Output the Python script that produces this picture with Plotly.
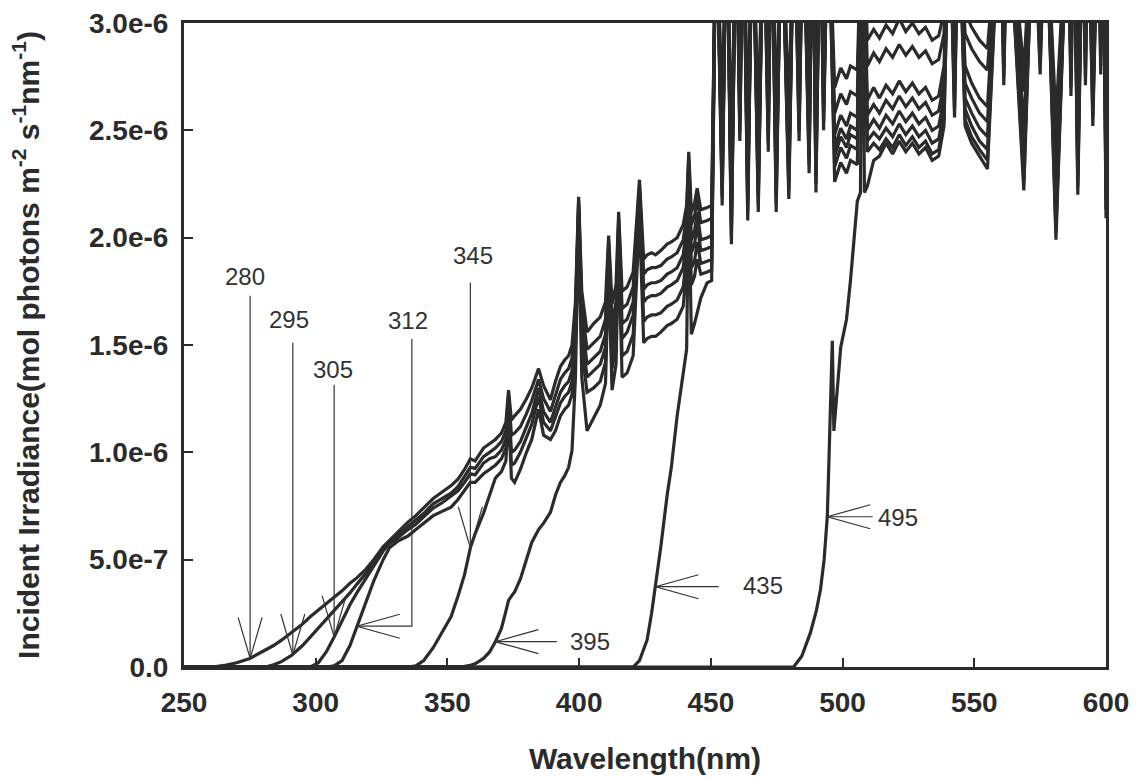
import plotly.graph_objects as go

# ---------------- data (irradiance in units of 1e-6 mol photons m-2 s-1 nm-1) ----------------
wavelength = [250, 258, 262, 266, 270, 275, 279, 281, 284, 287,
              291, 295, 298, 301, 304, 307, 310, 313, 315.6, 319,
              322, 325.6, 328, 331, 335, 338, 341, 344.6, 348, 351.4,
              354, 356.5, 358.7, 360.5, 363.7, 366, 368.2, 370.5, 372.2, 373.2,
              374.3, 375.5, 377.7, 380, 382, 384.6, 386.5, 389.1, 391, 392.9,
              394.5, 396, 397.3, 398.6, 399.8, 401, 403, 405.5, 408, 410,
              411.2, 412.5, 414, 415, 416.3, 418.2, 420.5, 422.9, 424.5, 425.8,
              427.5, 429, 431, 433.4, 435, 437.2, 439.5, 440.8, 441.6, 442.6,
              443.8, 444.8, 446.2, 448.6, 450.3,
              452.0, 454.3, 456.0, 457.8, 459.6, 461.0, 462.3, 464.0, 465.8, 468.0,
              470.0, 471.8, 473.0, 474.8, 476.8, 479.6, 481.6, 483.5, 485.0, 487.3,
              488.6, 489.9, 491.5, 492.8, 494.5,
              497, 499.3, 501.5, 503, 505.6, 507.5, 509.4, 511.8, 514, 516.5,
              519, 521.5, 524, 526.5, 529, 531.5, 534, 536.5, 538.5, 540.5,
              542.5, 544, 546.5, 549, 552, 555,
              559.8, 561.2, 562.6, 568.8, 572.5, 575, 577, 581, 585.5, 586.7,
              587.8, 589.3, 591.2, 592.2, 593.2, 595, 597, 598, 599, 600]

irr_280 = [0, 0, 0.002, 0.009, 0.02, 0.04, 0.065, 0.078, 0.10, 0.125,
           0.163, 0.20, 0.235, 0.265, 0.295, 0.325, 0.355, 0.39, 0.415, 0.455,
           0.50, 0.56, 0.59, 0.625, 0.675, 0.705, 0.74, 0.785, 0.815, 0.845,
           0.875, 0.92, 0.97, 0.96, 1.02, 1.04, 1.06, 1.09, 1.14, 1.29,
           1.15, 1.17, 1.20, 1.25, 1.30, 1.39, 1.31, 1.245, 1.33, 1.40,
           1.43, 1.45, 1.50, 1.70, 2.19, 1.75, 1.56, 1.60, 1.63, 1.70,
           2.01, 1.69, 1.78, 2.12, 1.75, 1.77, 1.84, 2.27, 1.90, 1.92,
           1.93, 1.92, 1.94, 1.97, 1.98, 2.00, 2.06, 2.15, 2.40, 2.12,
           2.16, 2.23, 2.13, 2.14, 2.15,
           3.6, 2.57, 3.6, 2.39, 3.6, 2.87, 3.6, 2.50, 3.6, 2.54,
           3.6, 2.82, 3.6, 2.54, 3.6, 2.60, 3.6, 2.87, 3.6, 2.72,
           3.6, 2.63, 3.6, 2.92, 3.6,
           2.70, 2.79, 2.74, 2.80, 2.78, 3.6, 2.92, 2.97, 2.93, 2.99,
           2.95, 3.02, 2.96, 3.00, 2.95, 2.98, 2.92, 2.94, 3.05, 3.6,
           3.12, 3.6, 3.05, 2.98, 2.92, 2.88,
           3.6, 3.27, 3.6, 2.78, 3.6, 3.30, 3.6, 2.55, 3.6, 3.22,
           3.6, 2.76, 3.6, 3.27, 3.6, 3.08, 3.6, 3.32, 3.6, 2.65]

irr_295 = [0, 0, 0, 0, 0, 0, 0, 0, 0.01, 0.025,
           0.056, 0.10, 0.14, 0.18, 0.22, 0.26, 0.30, 0.345, 0.385, 0.435,
           0.485, 0.55, 0.58, 0.61, 0.655, 0.685, 0.715, 0.76, 0.785, 0.81,
           0.84, 0.885, 0.93, 0.925, 0.98, 1.00, 1.02, 1.05, 1.10, 1.27,
           1.08, 1.09, 1.12, 1.18, 1.24, 1.34, 1.25, 1.19, 1.27, 1.34,
           1.37, 1.39, 1.44, 1.65, 2.17, 1.68, 1.48, 1.51, 1.54, 1.62,
           1.98, 1.60, 1.70, 2.09, 1.67, 1.69, 1.77, 2.24, 1.83, 1.85,
           1.86, 1.86, 1.87, 1.90, 1.91, 1.93, 1.99, 2.10, 2.37, 2.06,
           2.10, 2.18, 2.07, 2.08, 2.09,
           3.6, 2.47, 3.6, 2.29, 3.6, 2.77, 3.6, 2.40, 3.6, 2.44,
           3.6, 2.72, 3.6, 2.44, 3.6, 2.50, 3.6, 2.77, 3.6, 2.62,
           3.6, 2.53, 3.6, 2.82, 3.6,
           2.58, 2.67, 2.62, 2.68, 2.66, 3.6, 2.80, 2.86, 2.82, 2.88,
           2.84, 2.90, 2.85, 2.89, 2.84, 2.87, 2.81, 2.83, 2.95, 3.6,
           3.02, 3.6, 2.95, 2.88, 2.82, 2.78,
           3.6, 3.17, 3.6, 2.68, 3.6, 3.20, 3.6, 2.45, 3.6, 3.12,
           3.6, 2.66, 3.6, 3.17, 3.6, 2.98, 3.6, 3.22, 3.6, 2.55]

irr_305 = [0, 0, 0, 0, 0, 0, 0, 0, 0, 0,
           0, 0, 0, 0.02, 0.07, 0.14, 0.215, 0.29, 0.345, 0.41,
           0.47, 0.54, 0.575, 0.60, 0.64, 0.665, 0.70, 0.74, 0.765, 0.795,
           0.82, 0.86, 0.90, 0.895, 0.95, 0.97, 0.98, 1.01, 1.06, 1.25,
           1.00, 1.01, 1.05, 1.12, 1.18, 1.30, 1.19, 1.14, 1.21, 1.28,
           1.31, 1.33, 1.38, 1.60, 2.15, 1.62, 1.41, 1.44, 1.47, 1.55,
           1.95, 1.53, 1.63, 2.06, 1.60, 1.62, 1.70, 2.21, 1.76, 1.78,
           1.79, 1.79, 1.80, 1.83, 1.84, 1.86, 1.92, 2.05, 2.34, 1.99,
           2.03, 2.12, 1.99, 2.00, 2.01,
           3.6, 2.35, 3.6, 2.17, 3.6, 2.65, 3.6, 2.28, 3.6, 2.32,
           3.6, 2.60, 3.6, 2.32, 3.6, 2.38, 3.6, 2.65, 3.6, 2.50,
           3.6, 2.41, 3.6, 2.70, 3.6,
           2.48, 2.57, 2.52, 2.58, 2.56, 3.6, 2.64, 2.70, 2.65, 2.71,
           2.67, 2.73, 2.68, 2.72, 2.67, 2.70, 2.64, 2.66, 2.80, 3.6,
           2.85, 3.6, 2.80, 2.72, 2.65, 2.61,
           3.6, 3.00, 3.6, 2.51, 3.6, 3.05, 3.6, 2.28, 3.6, 2.95,
           3.6, 2.49, 3.6, 3.00, 3.6, 2.81, 3.6, 3.05, 3.6, 2.38]

irr_312 = [0, 0, 0, 0, 0, 0, 0, 0, 0, 0,
           0, 0, 0, 0, 0, 0.005, 0.03, 0.10, 0.188, 0.30,
           0.40, 0.50, 0.555, 0.585, 0.61, 0.64, 0.67, 0.705, 0.725, 0.745,
           0.78, 0.82, 0.86, 0.86, 0.90, 0.92, 0.94, 0.97, 1.02, 1.22,
           0.94, 0.95, 1.00, 1.07, 1.13, 1.26, 1.14, 1.10, 1.16, 1.23,
           1.26, 1.28, 1.33, 1.56, 2.13, 1.56, 1.35, 1.38, 1.41, 1.49,
           1.92, 1.47, 1.57, 2.03, 1.53, 1.56, 1.64, 2.18, 1.70, 1.72,
           1.73, 1.73, 1.74, 1.77, 1.78, 1.80, 1.86, 2.00, 2.31, 1.93,
           1.97, 2.06, 1.94, 1.95, 1.96,
           3.6, 2.29, 3.6, 2.11, 3.6, 2.59, 3.6, 2.22, 3.6, 2.26,
           3.6, 2.54, 3.6, 2.26, 3.6, 2.32, 3.6, 2.59, 3.6, 2.44,
           3.6, 2.35, 3.6, 2.64, 3.6,
           2.42, 2.51, 2.46, 2.52, 2.50, 3.6, 2.57, 2.62, 2.58, 2.64,
           2.60, 2.66, 2.61, 2.65, 2.60, 2.63, 2.57, 2.59, 2.72, 3.6,
           2.78, 3.6, 2.72, 2.65, 2.58, 2.54,
           3.6, 2.93, 3.6, 2.44, 3.6, 2.98, 3.6, 2.21, 3.6, 2.88,
           3.6, 2.42, 3.6, 2.93, 3.6, 2.74, 3.6, 2.98, 3.6, 2.31]

irr_345 = [0, 0, 0, 0, 0, 0, 0, 0, 0, 0,
           0, 0, 0, 0, 0, 0, 0, 0, 0, 0,
           0, 0, 0, 0, 0, 0.005, 0.03, 0.09, 0.165, 0.235,
           0.33, 0.43, 0.555, 0.62, 0.717, 0.80, 0.88, 0.91, 0.96, 1.18,
           0.88, 0.86, 0.92, 1.00, 1.06, 1.20, 1.08, 1.06, 1.10, 1.17,
           1.20, 1.22, 1.27, 1.52, 2.11, 1.48, 1.28, 1.30, 1.33, 1.42,
           1.88, 1.39, 1.50, 2.00, 1.45, 1.47, 1.55, 2.14, 1.61, 1.63,
           1.64, 1.64, 1.65, 1.68, 1.69, 1.71, 1.77, 1.93, 2.27, 1.86,
           1.89, 1.98, 1.88, 1.89, 1.90,
           3.6, 2.23, 3.6, 2.05, 3.6, 2.53, 3.6, 2.16, 3.6, 2.20,
           3.6, 2.48, 3.6, 2.20, 3.6, 2.26, 3.6, 2.53, 3.6, 2.38,
           3.6, 2.29, 3.6, 2.58, 3.6,
           2.38, 2.47, 2.42, 2.48, 2.46, 3.6, 2.50, 2.55, 2.51, 2.57,
           2.53, 2.59, 2.54, 2.58, 2.53, 2.56, 2.50, 2.52, 2.65, 3.6,
           2.71, 3.6, 2.65, 2.58, 2.51, 2.47,
           3.6, 2.86, 3.6, 2.37, 3.6, 2.91, 3.6, 2.14, 3.6, 2.81,
           3.6, 2.35, 3.6, 2.86, 3.6, 2.67, 3.6, 2.91, 3.6, 2.24]

irr_395 = [0, 0, 0, 0, 0, 0, 0, 0, 0, 0,
           0, 0, 0, 0, 0, 0, 0, 0, 0, 0,
           0, 0, 0, 0, 0, 0, 0, 0, 0, 0,
           0, 0.003, 0.008, 0.015, 0.04, 0.07, 0.118, 0.18, 0.26, 0.31,
           0.33, 0.35, 0.41, 0.50, 0.58, 0.64, 0.67, 0.72, 0.80, 0.86,
           0.89, 0.93, 1.01, 1.35, 2.08, 1.35, 1.10, 1.16, 1.22, 1.32,
           1.84, 1.29, 1.41, 1.96, 1.35, 1.37, 1.45, 2.10, 1.51, 1.53,
           1.54, 1.54, 1.56, 1.59, 1.60, 1.62, 1.68, 1.86, 2.24, 1.78,
           1.82, 1.90, 1.83, 1.84, 1.85,
           3.6, 2.19, 3.6, 2.01, 3.6, 2.49, 3.6, 2.12, 3.6, 2.16,
           3.6, 2.44, 3.6, 2.16, 3.6, 2.22, 3.6, 2.49, 3.6, 2.34,
           3.6, 2.25, 3.6, 2.54, 3.6,
           2.33, 2.42, 2.37, 2.43, 2.41, 3.6, 2.45, 2.49, 2.46, 2.51,
           2.47, 2.53, 2.48, 2.52, 2.47, 2.50, 2.44, 2.46, 2.60, 3.6,
           2.65, 3.6, 2.60, 2.52, 2.45, 2.41,
           3.6, 2.80, 3.6, 2.31, 3.6, 2.85, 3.6, 2.08, 3.6, 2.75,
           3.6, 2.29, 3.6, 2.80, 3.6, 2.61, 3.6, 2.85, 3.6, 2.18]

irr_435 = [0, 0, 0, 0, 0, 0, 0, 0, 0, 0,
           0, 0, 0, 0, 0, 0, 0, 0, 0, 0,
           0, 0, 0, 0, 0, 0, 0, 0, 0, 0,
           0, 0, 0, 0, 0, 0, 0, 0, 0, 0,
           0, 0, 0, 0, 0, 0, 0, 0, 0, 0,
           0, 0, 0, 0, 0, 0, 0, 0, 0, 0,
           0, 0, 0, 0, 0, 0, 0, 0.03, 0.08, 0.126,
           0.25, 0.374, 0.56, 0.80, 0.93, 1.17, 1.36, 1.48, 2.20, 1.55,
           1.60, 1.65, 1.72, 1.79, 1.80,
           3.6, 2.15, 3.6, 1.97, 3.6, 2.45, 3.6, 2.08, 3.6, 2.12,
           3.6, 2.40, 3.6, 2.12, 3.6, 2.18, 3.6, 2.45, 3.6, 2.30,
           3.6, 2.21, 3.6, 2.50, 3.6,
           2.26, 2.35, 2.30, 2.36, 2.34, 3.6, 2.40, 2.44, 2.41, 2.46,
           2.42, 2.48, 2.43, 2.47, 2.42, 2.45, 2.39, 2.41, 2.55, 3.6,
           2.60, 3.6, 2.55, 2.47, 2.41, 2.36,
           3.6, 2.75, 3.6, 2.26, 3.6, 2.80, 3.6, 2.03, 3.6, 2.70,
           3.6, 2.24, 3.6, 2.75, 3.6, 2.56, 3.6, 2.80, 3.6, 2.13]

wavelength_495 = [250, 478, 481.4, 484.5, 487.8, 490, 491.6, 493, 494.2, 494.8,
                  495.5, 496.1, 496.7, 498, 499.3, 501.5, 503, 505.6, 506.8, 507.5,
                  508.3, 509.4, 511.8, 514, 516.5, 519, 521.5, 524, 526.5, 529,
                  531.5, 534, 536.5, 538.5, 540.5, 542.5, 544, 546.5, 549, 552,
                  555,
                  559.8, 561.2, 562.6, 568.8, 572.5, 575, 577, 581, 585.5, 586.7,
                  587.8, 589.3, 591.2, 592.2, 593.2, 595, 597, 598, 599, 600]
irr_495 = [0, 0, 0.0, 0.05, 0.16, 0.26, 0.36, 0.5, 0.70, 0.95,
           1.2, 1.52, 1.10, 1.30, 1.49, 1.62, 1.80, 2.17, 2.21, 3.6,
           2.21, 2.24, 2.36, 2.38, 2.44, 2.39, 2.45, 2.40, 2.44, 2.39,
           2.42, 2.36, 2.38, 2.52, 3.6, 2.56, 3.6, 2.52, 2.44, 2.38,
           2.32,
           3.6, 2.71, 3.6, 2.22, 3.6, 2.76, 3.6, 1.99, 3.6, 2.66,
           3.6, 2.20, 3.6, 2.71, 3.6, 2.52, 3.6, 2.76, 3.6, 2.09]

filter_names = ["280", "295", "305", "312", "345", "395", "435", "495"]

# arrow tips (points on the curves the labels refer to)
tip_wl = [275.1, 291.3, 307.0, 315.6, 358.7, 368.2, 429.0, 494.2]
tip_val = [0.04, 0.056, 0.14, 0.19, 0.555, 0.118, 0.374, 0.70]

y_tickvals = [0, 0.5, 1.0, 1.5, 2.0, 2.5, 3.0]
y_ticktext = ["0.0", "5.0e-7", "1.0e-6", "1.5e-6", "2.0e-6", "2.5e-6", "3.0e-6"]
x_tickvals = [250, 300, 350, 400, 450, 500, 550, 600]

# ---------------- figure ----------------
INK = "#2b2b2b"
FONT = "Liberation Sans, Arial, Helvetica, sans-serif"

series = [
    (wavelength, irr_280), (wavelength, irr_295), (wavelength, irr_305),
    (wavelength, irr_312), (wavelength, irr_345), (wavelength, irr_395),
    (wavelength, irr_435), (wavelength_495, irr_495),
]
for xs, ys in series:
    assert len(xs) == len(ys), (len(xs), len(ys))

fig = go.Figure()
for name, (xs, ys) in zip(filter_names, series):
    fig.add_trace(go.Scatter(x=xs, y=ys, mode="lines", name=name,
                             line=dict(color=INK, width=3.2), showlegend=False,
                             hoverinfo="skip"))

# annotation layout (label positions / leader-line ends, in data coordinates)
label_pos = {
    "280": (273.2, 1.82), "295": (289.9, 1.62), "305": (306.6, 1.385),
    "312": (335.1, 1.613), "345": (359.6, 1.916), "395": (404.3, 0.121),
    "435": (469.8, 0.38), "495": (520.9, 0.695),
}
stem_top = {"280": 1.73, "295": 1.51, "305": 1.315, "345": 1.79}
horiz_end = {"395": 391.5, "435": 453.0, "495": 511.4}

LEADER = dict(color="#333333", width=1.2)
shapes = []
annotations = []
for name, tx, ty in zip(filter_names, tip_wl, tip_val):
    lx, ly = label_pos[name]
    annotations.append(dict(x=lx, y=ly, xref="x", yref="y", text=name,
                            showarrow=False, xanchor="center", yanchor="middle",
                            font=dict(family=FONT, size=24, color="#333333")))
    if name in stem_top:
        shapes.append(dict(type="line", xref="x", yref="y", x0=tx, x1=tx,
                           y0=stem_top[name], y1=ty, line=LEADER))
        head = "M -12,41 L 0,0 L 12,41"
    elif name == "312":
        shapes.append(dict(type="path", xref="x", yref="y",
                           path=f"M 336.5,1.528 L 336.5,{ty} L {tx},{ty}",
                           line=LEADER))
        head = "M 43,12 L 0,0 L 43,-12"
    else:
        shapes.append(dict(type="line", xref="x", yref="y", x0=tx, x1=horiz_end[name],
                           y0=ty, y1=ty, line=LEADER))
        head = "M 43,12 L 0,0 L 43,-12"
    shapes.append(dict(type="path", xref="x", yref="y", xsizemode="pixel",
                       ysizemode="pixel", xanchor=tx, yanchor=ty, path=head,
                       line=LEADER))

axis_common = dict(showline=True, linewidth=3, linecolor=INK, mirror=True,
                   ticks="inside", ticklen=9, tickwidth=2, tickcolor=INK,
                   showgrid=False, zeroline=False, automargin=False,
                   tickfont=dict(family=FONT, size=28, color=INK, weight="bold"))

fig.update_layout(
    width=1138, height=779,
    margin=dict(l=184, r=32, t=23, b=112),
    paper_bgcolor="white", plot_bgcolor="white",
    shapes=shapes, annotations=annotations,
    xaxis=dict(range=[250, 600], tickvals=x_tickvals,
               ticklabelstandoff=8,
               title=dict(text="Wavelength(nm)", standoff=32,
                          font=dict(family=FONT, size=30, color=INK, weight="bold")),
               **axis_common),
    yaxis=dict(range=[0, 3.0], tickvals=y_tickvals, ticktext=y_ticktext,
               ticklabelstandoff=7,
               title=dict(text="Incident Irradiance(mol photons m<sup>-2</sup> s<sup>-1</sup>nm<sup>-1</sup>)",
                          standoff=41,
                          font=dict(family=FONT, size=30, color=INK, weight="bold")),
               **axis_common),
)

fig.write_html("out.html", config={"displayModeBar": False},
               post_script="document.body.style.margin='0px';")
